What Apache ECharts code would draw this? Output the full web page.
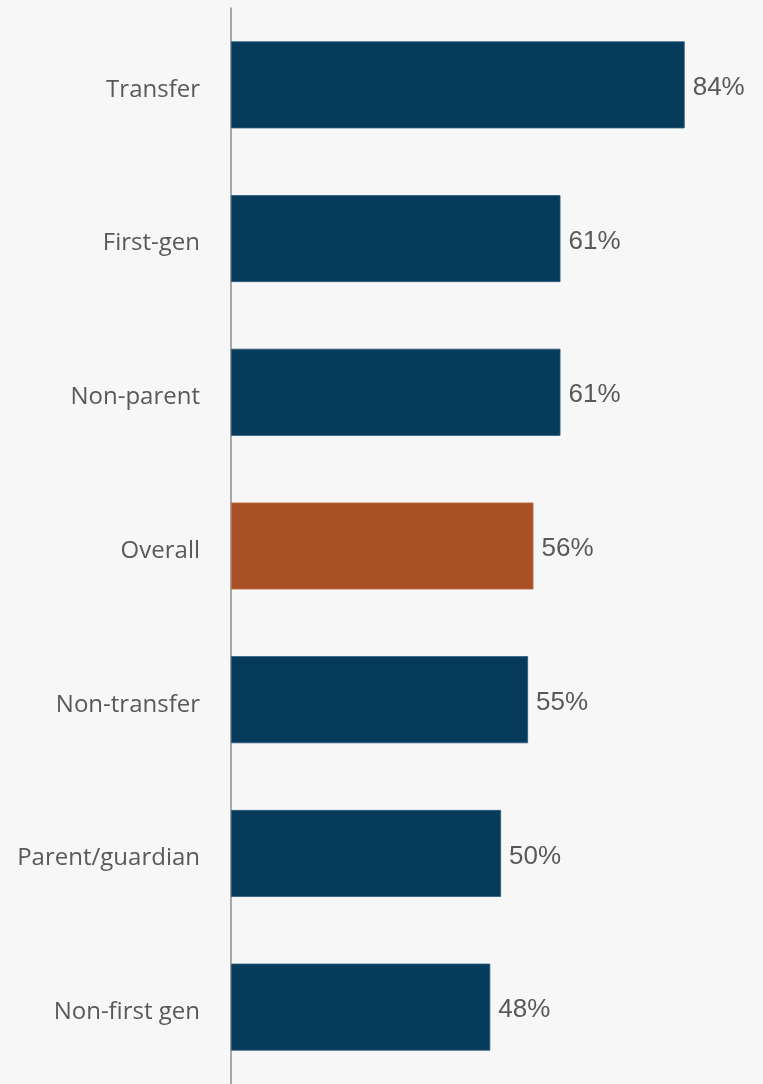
<!DOCTYPE html>
<html>
<head>
<meta charset="utf-8">
<style>
  html, body { margin: 0; padding: 0; background: #f7f7f7; }
  #chart { width: 763px; height: 1084px; }
</style>
<script src="https://cdn.jsdelivr.net/npm/echarts@6/dist/echarts.min.js"></script>
</head>
<body>
<div id="chart"></div>
<script>
// Share of students by group (percent)
const categories = ['Transfer', 'First-gen', 'Non-parent', 'Overall', 'Non-transfer', 'Parent/guardian', 'Non-first gen'];
const values = [84, 61, 61, 56, 55, 50, 48];
const highlight = 'Overall';

const navy = '#073b5c';
const rust = '#aa5027';

const chart = echarts.init(document.getElementById('chart'), null, { renderer: 'canvas' });

chart.setOption({
  backgroundColor: '#f7f7f7',
  animation: false,
  grid: { left: 231, top: 8, right: 0, height: 1078, containLabel: false },
  xAxis: {
    type: 'value', min: 0, max: 98.5,
    show: false
  },
  yAxis: {
    type: 'category',
    data: categories,
    inverse: true,
    axisLine: { show: true, lineStyle: { color: '#8c8c8c', width: 1.5 } },
    axisTick: { show: false },
    axisLabel: {
      margin: 31,
      formatter: v => '{c|' + v + '}',
      rich: {
        c: {
          color: '#595959',
          fontFamily: 'Open Sans',
          fontSize: 24,
          padding: [10, 0, 0, 0]
        }
      }
    }
  },
  series: [{
    type: 'bar',
    barWidth: 87,
    data: values.map((v, i) => ({
      value: v,
      itemStyle: {
        color: categories[i] === highlight ? rust : navy,
        borderColor: categories[i] === highlight ? '#c0714a' : '#2b5a7a',
        borderWidth: 0.8
      }
    })),
    label: {
      show: true,
      position: 'right',
      distance: 8,
      offset: [0, 3],
      color: '#595959',
      fontFamily: 'Liberation Sans',
      fontSize: 26,
      formatter: p => p.value + '%'
    }
  }]
});
</script>
</body>
</html>
